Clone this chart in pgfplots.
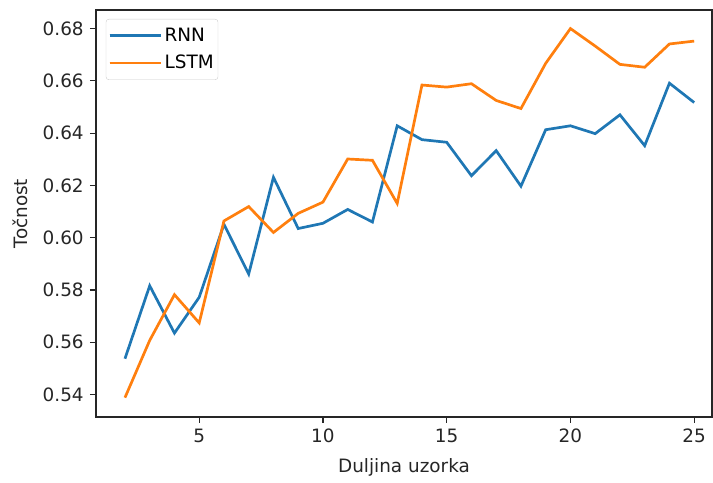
\documentclass[border=0pt]{standalone}
\usepackage{fontspec}
\setmainfont{DejaVu Sans}
\usepackage{pgfplots}
\pgfplotsset{compat=1.18}
\definecolor{mplblue}{HTML}{1F77B4}
\definecolor{mplorange}{HTML}{FF7F0E}
\definecolor{spine}{HTML}{262626}
\begin{document}
\fontsize{18.4bp}{22bp}\selectfont
\begin{tikzpicture}
\begin{axis}[
  scale only axis,
  width=616bp, height=407bp,
  xmin=0.83, xmax=25.72,
  ymin=0.5314, ymax=0.6871,
  xtick={5,10,15,20,25},
  ytick={0.54,0.56,0.58,0.60,0.62,0.64,0.66,0.68},
  yticklabel style={/pgf/number format/.cd,fixed,fixed zerofill,precision=2},
  /pgf/number format/assume math mode=true,
  ticklabel style={font=\fontsize{18.4bp}{22bp}\selectfont, text=spine},
  label style={font=\fontsize{18.4bp}{22bp}\selectfont, text=spine},
  tick align=outside,
  tick pos=lower,
  major tick length=6bp,
  tick style={line width=1.2bp, color=spine},
  axis line style={line width=1.4bp, color=spine},
  xlabel={Duljina uzorka},
  ylabel={Točnost},
  xlabel style={yshift=-2.5bp},
  ylabel style={yshift=2bp},
  legend style={at={(0.0159,0.978)}, anchor=north west, draw=white!80!black,
    rounded corners=3bp, fill=white, fill opacity=0.8, text opacity=1,
    font=\fontsize{18.4bp}{22bp}\selectfont, row sep=7bp,
    inner xsep=2.3bp, inner ysep=6.5bp,
    nodes={inner sep=2bp}},
  legend cell align=left,
  legend image code/.code={\draw[#1, line width=2.7bp] (0bp,0bp) -- (41.7bp,0bp); \path (0bp,0bp) -- (51.7bp,0bp);},
]
\addplot[mplblue, line width=2.7bp] coordinates {
(2,0.5537) (3,0.5816) (4,0.5635) (5,0.5772) (6,0.6051) (7,0.5861) (8,0.6231)
(9,0.6035) (10,0.6055) (11,0.6108) (12,0.6060) (13,0.6428) (14,0.6375)
(15,0.6365) (16,0.6237) (17,0.6333) (18,0.6197) (19,0.6413) (20,0.6428)
(21,0.6398) (22,0.6470) (23,0.6352) (24,0.6591) (25,0.6517)
};
\addlegendentry{RNN}
\addplot[mplorange, line width=2.7bp] coordinates {
(2,0.5388) (3,0.5607) (4,0.5782) (5,0.5674) (6,0.6064) (7,0.6119) (8,0.6020)
(9,0.6093) (10,0.6136) (11,0.6301) (12,0.6296) (13,0.6131) (14,0.6584)
(15,0.6576) (16,0.6589) (17,0.6525) (18,0.6494) (19,0.6667) (20,0.6800)
(21,0.6733) (22,0.6663) (23,0.6652) (24,0.6741) (25,0.6752)
};
\addlegendentry{LSTM\hspace{5.7bp}}
\end{axis}
\path (current axis.south west) ++(-96bp,-61bp) coordinate (bbA);
\path (current axis.north east) ++(1bp,10bp) coordinate (bbB);
\path (bbA) rectangle (bbB);
\end{tikzpicture}
\end{document}
